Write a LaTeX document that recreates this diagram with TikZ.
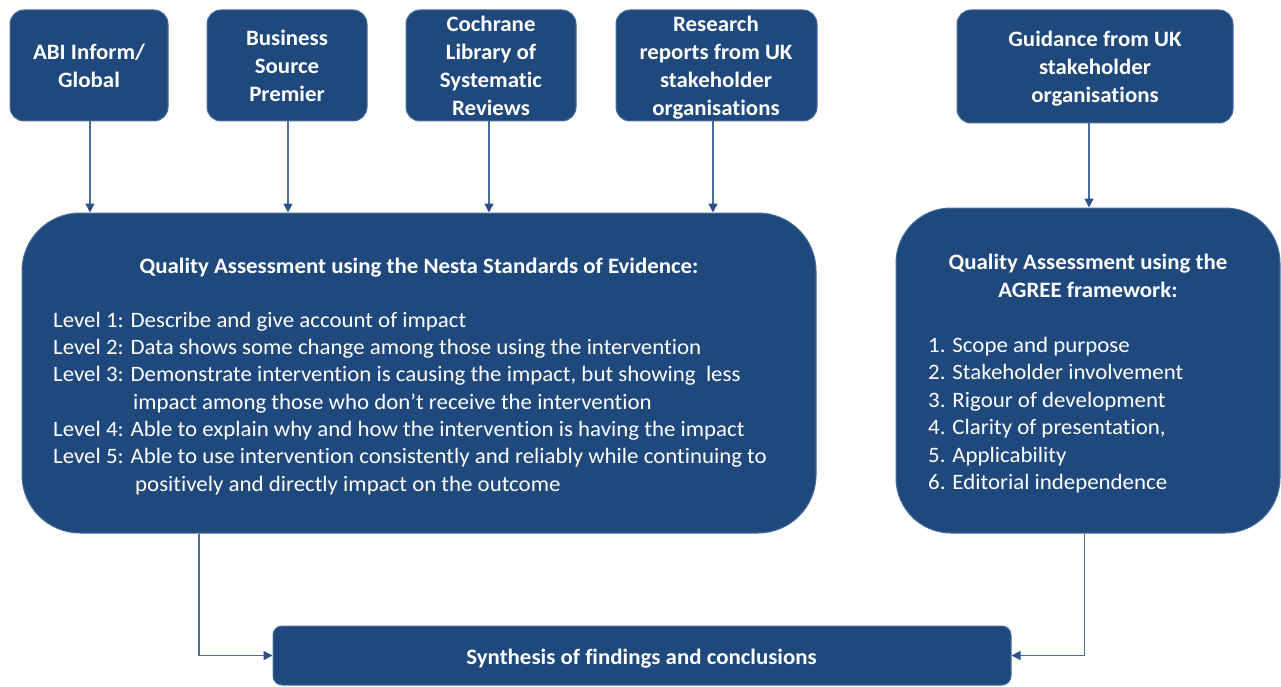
\documentclass[tikz,border=0pt]{standalone}
\usepackage{fontspec}
\setmainfont{Carlito}[FakeStretch=1.04,Ligatures=NoCommon]
\usetikzlibrary{arrows.meta}
\definecolor{boxblue}{HTML}{1F497D}
\definecolor{edgeblue}{HTML}{4A6E99}
\definecolor{linkblue}{HTML}{4A6E9C}
\definecolor{tipblue}{HTML}{2A5288}
\begin{document}
\begin{tikzpicture}[x=1pt,y=-1pt,
  srcbox/.style={draw=edgeblue,line width=1pt,fill=boxblue,rounded corners=14pt,text=white,
    font=\fontsize{22}{28}\selectfont\bfseries,align=center,inner sep=0pt},
  bigbox/.style={draw=edgeblue,line width=1pt,fill=boxblue,rounded corners=58pt,inner sep=0pt},
  txt/.style={text=white,font=\fontsize{22}{27}\selectfont,inner sep=0pt,anchor=base west},
  ttl/.style={text=white,font=\fontsize{22}{28}\selectfont\bfseries,inner sep=0pt,align=center},
  link/.style={draw=linkblue,line width=1.4pt,-{Triangle[length=9pt,width=9pt,color=tipblue]}}]
\useasboundingbox (0,0) rectangle (1281,687);
% source boxes
\node[srcbox,minimum width=158pt,minimum height=111pt] (abi) at (89,65.5) {ABI Inform/\\Global};
\node[srcbox,minimum width=160pt,minimum height=111pt] (bsp) at (287,65.5) {Business\\Source\\Premier};
\node[srcbox,minimum width=170pt,minimum height=111pt] (coch) at (491,65.5) {Cochrane\\Library of\\Systematic\\Reviews};
\node[srcbox,minimum width=201pt,minimum height=111pt] (res) at (716.5,65.5) {};
\node[ttl] (rest) at (716,67.5) {Research\\reports from UK\\stakeholder\\organisations};
\node[srcbox,minimum width=276pt,minimum height=113pt] (guid) at (1095,66.5) {};
\node[ttl] (guidt) at (1095,69) {Guidance from UK\\stakeholder\\organisations};
% big boxes
\node[bigbox,minimum width=794pt,minimum height=320pt] (nesta) at (419,373) {};
\node[bigbox,minimum width=384pt,minimum height=325pt,rounded corners=55pt] (agree) at (1088,370.5) {};
\node[srcbox,minimum width=738pt,minimum height=59pt,rounded corners=9pt] (syn) at (642,655.5) {};
\node[ttl] (synt) at (641.5,658.5) {Synthesis of findings and conclusions};
% Nesta text
\node[ttl] (nt) at (419,268) {Quality Assessment using the Nesta Standards of Evidence:};
\node[txt] (l1) at (53,327) {Level 1: Describe and give account of impact};
\node[txt] (l2) at (53,354) {Level 2: Data shows some change among those using the intervention};
\node[txt] (l3) at (53,381) {Level 3: Demonstrate intervention is causing the impact, but showing \ less};
\node[txt] (l3b) at (133,409) {impact among those who don’t receive the intervention};
\node[txt] (l4) at (53,436) {Level 4: Able to explain why and how the intervention is having the impact};
\node[txt] (l5) at (53,463) {Level 5: Able to use intervention consistently and reliably while continuing to};
\node[txt] (l5b) at (135,491) {positively and directly impact on the outcome};
% AGREE text
\node[ttl] (at) at (1088,276) {Quality Assessment using the\\AGREE framework:};
\node[txt] (a1) at (928,352) {1. Scope and purpose};
\node[txt] (a2) at (928,379) {2. Stakeholder involvement};
\node[txt] (a3) at (928,407) {3. Rigour of development};
\node[txt] (a4) at (928,434) {4. Clarity of presentation,};
\node[txt] (a5) at (928,462) {5. Applicability};
\node[txt] (a6) at (928,489) {6. Editorial independence};
% connector x positions
\coordinate (ax1) at (90,0);
\coordinate (ax2) at (288,0);
\coordinate (ax3) at (489,0);
\coordinate (ax4) at (713,0);
\coordinate (ax5) at (1089,0);
\coordinate (nx) at (199,0);
\coordinate (gx) at (1084.5,0);
\draw[link] (abi.south -| ax1) -- (nesta.north -| ax1);
\draw[link] (bsp.south -| ax2) -- (nesta.north -| ax2);
\draw[link] (coch.south -| ax3) -- (nesta.north -| ax3);
\draw[link] (res.south -| ax4) -- (nesta.north -| ax4);
\draw[link] (guid.south -| ax5) -- (agree.north -| ax5);
\draw[link] (nesta.south -| nx) |- (syn.west);
\draw[link] (agree.south -| gx) |- (syn.east);
\end{tikzpicture}
\end{document}
